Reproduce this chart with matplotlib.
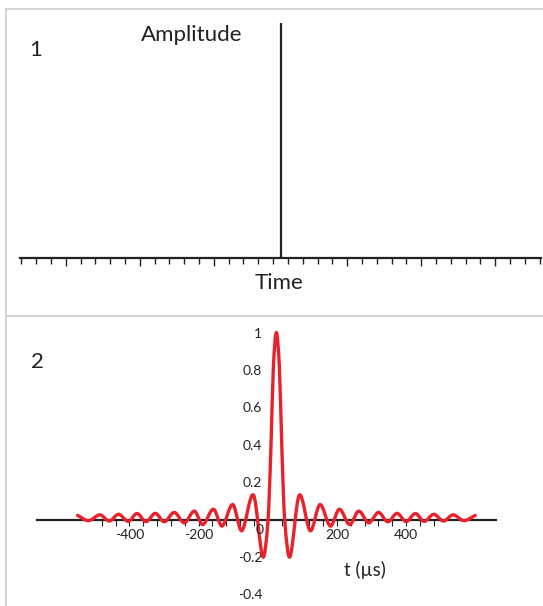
import numpy as np
import matplotlib
matplotlib.use('Agg')
import matplotlib.pyplot as plt
from matplotlib.path import Path
from matplotlib.patches import PathPatch
from matplotlib.lines import Line2D

plt.rcParams['font.family'] = ['Lato', 'DejaVu Sans']

# panel 1: a single impulse on the time axis
spike_t = [0]
spike_amp = [1.0]

# panel 2: extrema / sample points (t in us, amplitude)
pulse_t = [-550, -518, -485, -458, -431, -403, -378, -352, -325, -299,
           -270, -241, -212, -188, -157, -132, -101, -75, -41, -14,
           1, 9, 16, 25, 34, 41, 49,
           64, 91, 123, 151, 181, 207, 237, 263, 292, 320,
           347, 374, 400, 427, 452, 480, 508, 536, 567, 600]
pulse_amp = [0.022, -0.006, 0.025, -0.008, 0.028, -0.010, 0.032, -0.011, 0.033, -0.012,
             0.038, -0.018, 0.045, -0.027, 0.055, -0.035, 0.080, -0.060, 0.130, -0.200,
             0.0, 0.37, 0.80, 1.0, 0.80, 0.37, 0.0,
             -0.200, 0.130, -0.060, 0.080, -0.035, 0.055, -0.027, 0.045, -0.018, 0.038,
             -0.012, 0.033, -0.011, 0.032, -0.010, 0.028, -0.008, 0.025, -0.006, 0.022]

x_labels = [-400, -200, 200, 400]
y_ticks = [-0.4, -0.2, 0.2, 0.4, 0.6, 0.8, 1.0]
y_labels = ['-0.4', '-0.2', '0.2', '0.4', '0.6', '0.8', '1']

W, H = 543, 606
fig = plt.figure(figsize=(W / 100, H / 100), dpi=100)
ink = '#222222'
red = '#e8212b'


def px_axes(x0, y0, x1, y1):
    # pixel box (top-left origin) -> figure fraction
    return fig.add_axes([x0 / W, (H - y1) / H, (x1 - x0) / W, (y1 - y0) / H])


# grey frame lines
for xs, ys in [([6, W], [8.5, 8.5]), ([6, 6], [8.5, H]), ([6, W], [316, 316])]:
    fig.add_artist(Line2D([x / W for x in xs], [1 - y / H for y in ys],
                          color='#cccccc', lw=1.2))

# ---- panel 1 ----
ax1 = px_axes(20, 23.3, 541, 258)
ax1.set_xlim(-17.6, 17.6)
ax1.set_ylim(0, 1)
ax1.vlines(spike_t, 0, spike_amp, color=ink, lw=1.6, clip_on=False)
for s in ['top', 'right', 'left']:
    ax1.spines[s].set_visible(False)
ax1.spines['bottom'].set_color(ink)
ax1.spines['bottom'].set_linewidth(1.6)
ax1.set_yticks([])
ticks = np.arange(-17.5, 18, 1.0)
long_ticks = [-14.5, -9.5, -4.5, 4.5, 9.5, 14.5]
ax1.set_xticks(long_ticks)
ax1.set_xticks([t for t in ticks if t not in long_ticks], minor=True)
ax1.tick_params(axis='x', which='major', direction='out', length=6, width=1, color=ink, labelbottom=False)
ax1.tick_params(axis='x', which='minor', direction='out', length=4, width=1, color=ink)
fig.text(192 / W, 1 - 35 / H, 'Amplitude', ha='center', va='center', fontsize=16, color=ink)
fig.text(36 / W, 1 - 50 / H, '1', ha='center', va='center', fontsize=16, color=ink)
fig.text(279 / W, 1 - 283 / H, 'Time', ha='center', va='center', fontsize=16, color=ink)

# ---- panel 2 ----
ax2 = px_axes(36.7, 323.2, 496, 603.65)
ax2.set_xlim(-668, 660)
ax2.set_ylim(-0.45, 1.05)

# smooth path through the read points (cubic Hermite as Bezier segments)
t = np.array(pulse_t, float)
a = np.array(pulse_amp, float)
m = np.zeros_like(a)
m[1:-1] = (a[2:] - a[:-2]) / (t[2:] - t[:-2])
m[0] = (a[1] - a[0]) / (t[1] - t[0])
m[-1] = (a[-1] - a[-2]) / (t[-1] - t[-2])
verts = [(t[0], a[0])]
codes = [Path.MOVETO]
for i in range(len(t) - 1):
    h = t[i + 1] - t[i]
    verts += [(t[i] + h / 3, a[i] + m[i] * h / 3),
              (t[i + 1] - h / 3, a[i + 1] - m[i + 1] * h / 3),
              (t[i + 1], a[i + 1])]
    codes += [Path.CURVE4] * 3
ax2.add_patch(PathPatch(Path(verts, codes), facecolor='none', edgecolor=red,
                        lw=2.4, capstyle='round', joinstyle='round', zorder=3))

for s in ['top', 'right']:
    ax2.spines[s].set_visible(False)
ax2.spines['left'].set_position(('data', 0))
ax2.spines['left'].set_color('none')
ax2.spines['bottom'].set_position(('data', 0))
ax2.spines['bottom'].set_color(ink)
ax2.spines['bottom'].set_linewidth(1.6)
ax2.set_xticks(x_labels)
ax2.set_xticklabels([str(v) for v in x_labels])
ax2.set_xticks(np.arange(-480, 481, 40), minor=True)
ax2.tick_params(axis='x', which='both', direction='out', length=4, width=0.8, color=ink,
                labelsize=10, labelcolor=ink, pad=2.5)
ax2.set_yticks(y_ticks)
ax2.set_yticklabels(y_labels)
ax2.tick_params(axis='y', length=0, labelsize=10, labelcolor=ink, pad=4)
ax2.text(-22, -0.056, '0', ha='center', va='center', fontsize=10, color=ink)
ax2.text(282, -0.27, 't (µs)', ha='center', va='center', fontsize=13.5, color=ink)
fig.text(37 / W, 1 - 361.7 / H, '2', ha='center', va='center', fontsize=16, color=ink)

fig.savefig('out.png', dpi=100)
